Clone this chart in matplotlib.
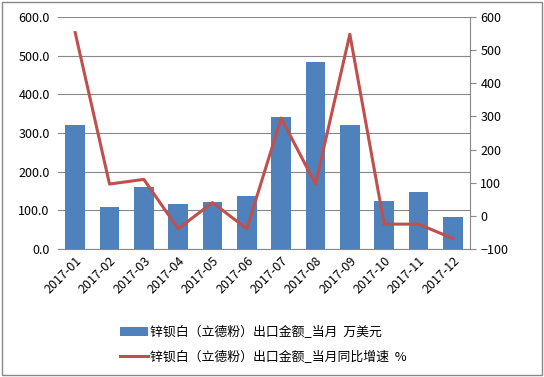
import matplotlib.pyplot as plt
import numpy as np

plt.rcParams['font.family'] = ['Noto Sans CJK SC', 'DejaVu Sans']

months = ["2017-01", "2017-02", "2017-03", "2017-04", "2017-05", "2017-06",
          "2017-07", "2017-08", "2017-09", "2017-10", "2017-11", "2017-12"]
amount = [320, 108, 160, 116, 121, 137, 341, 483, 320, 124, 147, 83]
growth = [553, 96, 110, -39, 40, -39, 295, 96, 548, -25, -25, -68]
bar_label = "锌钡白（立德粉）出口金额_当月  万美元"
line_label = "锌钡白（立德粉）出口金额_当月同比增速  %"

fig = plt.figure(figsize=(5.44, 3.77), dpi=100)
ax = fig.add_axes([58 / 544, 1 - 249 / 377, 412 / 544, 232 / 377])
x = np.arange(len(months))
b = ax.bar(x, amount, width=0.58, color="#4F81BD", label=bar_label, zorder=2)
ax.set_ylim(0, 600)
ax.set_yticks(np.arange(0, 601, 100))
ax.set_yticklabels([f"{v:.1f}" for v in range(0, 601, 100)], fontsize=9)
ax.set_xlim(-0.5, len(months) - 0.5)
ax.set_xticks(x)
ax.set_xticklabels(months, rotation=45, ha="right", rotation_mode="anchor", fontsize=9)
ax.grid(axis="y", color="#888888", linewidth=0.8, zorder=0)
ax.tick_params(axis="y", length=0, pad=6)
ax.tick_params(axis="x", length=0, pad=4)
for s in ["top", "left", "right"]:
    ax.spines[s].set_visible(False)
ax.spines["bottom"].set_color("#888888")

ax2 = ax.twinx()
l, = ax2.plot(x, growth, color="#C0504D", linewidth=2.2, label=line_label, zorder=3)
ax2.set_ylim(-100, 600)
ax2.set_yticks(np.arange(-100, 601, 100))
ax2.tick_params(axis="y", labelsize=9, direction="out", length=4, color="#888888")
for s in ["top", "left", "bottom"]:
    ax2.spines[s].set_visible(False)
ax2.spines["right"].set_color("#888888")

fig.legend([b, l], [bar_label, line_label], loc="center", bbox_to_anchor=(263 / 544, 1 - 345 / 377),
           frameon=False, fontsize=9.3, handlelength=2.2, labelspacing=0.85, handletextpad=0.1)

fig.patches.append(plt.Rectangle((0.004, 0.004), 0.992, 0.992, transform=fig.transFigure,
                                 fill=False, edgecolor="#888888", linewidth=1))
fig.savefig("out.png", dpi=100)
